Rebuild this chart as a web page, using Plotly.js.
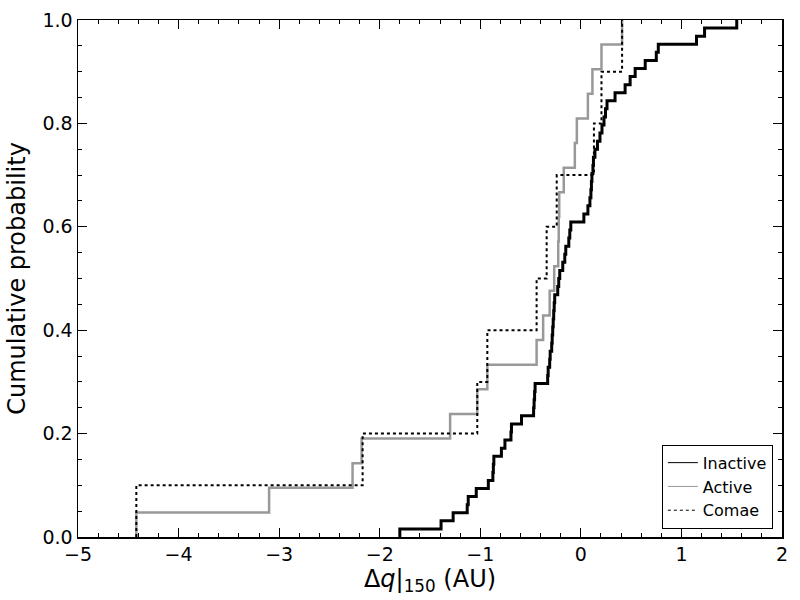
<!DOCTYPE html>
<html>
<head>
<meta charset="utf-8">
<script src="https://cdn.plot.ly/plotly-3.0.1.min.js"></script>
<style>
  body { margin: 0; background: #fff; }
  #plot { width: 800px; height: 600px; }
</style>
</head>
<body>
<div id="plot"></div>
<script>
// Delta q at 150 AU for each group (sorted)
let inactive = [-1.80, -1.39, -1.27, -1.13, -1.12, -1.04, -0.92, -0.875, -0.87, -0.865,
  -0.79, -0.755, -0.695, -0.69, -0.59, -0.47, -0.465, -0.46, -0.455, -0.33,
  -0.325, -0.31, -0.305, -0.29, -0.285, -0.28, -0.275, -0.27, -0.265, -0.26,
  -0.23, -0.22, -0.21, -0.18, -0.16, -0.15, -0.12, -0.11, -0.10, 0.03,
  0.07, 0.09, 0.10, 0.105, 0.11, 0.12, 0.125, 0.14, 0.165, 0.19,
  0.21, 0.23, 0.245, 0.26, 0.34, 0.44, 0.49, 0.54, 0.64, 0.75,
  0.77, 1.15, 1.23, 1.55];

let active = [-4.42, -3.10, -2.27, -2.18, -1.30, -1.03, -0.93, -0.44, -0.375, -0.31,
  -0.265, -0.225, -0.22, -0.215, -0.17, -0.06, -0.04, 0.07, 0.115, 0.205, 0.41];

let comae = [-4.42, -2.17, -1.03, -0.93, -0.44, -0.34, -0.24, 0.13, 0.205, 0.41];

let groupNames = ["Inactive", "Active", "Comae"];

// turn a sorted list into step cdf points
function ecdf(vals) {
  let n = vals.length;
  let xs = [vals[0]];
  let ys = [0];
  for (let i = 0; i < n; i++) {
    xs.push(vals[i]);
    ys.push((i + 1) / n);
  }
  return {x: xs, y: ys};
}

let cInactive = ecdf(inactive);
let cActive = ecdf(active);
let cComae = ecdf(comae);

let trace1 = {
  x: cInactive.x, y: cInactive.y, name: groupNames[0], showlegend: false,
  mode: "lines", line: {shape: "hv", color: "#000000", width: 3}
};
let trace2 = {
  x: cActive.x, y: cActive.y, name: groupNames[1], showlegend: false,
  mode: "lines", line: {shape: "hv", color: "#999999", width: 2.5}
};
let trace3 = {
  x: cComae.x, y: cComae.y, name: groupNames[2], showlegend: false,
  mode: "lines", line: {shape: "hv", color: "#000000", width: 2, dash: "dot"}
};

// legend keys are drawn thin in the original, so use empty traces for them
let key1 = {x: [null], y: [null], name: groupNames[0], mode: "lines", line: {color: "#000000", width: 1}};
let key2 = {x: [null], y: [null], name: groupNames[1], mode: "lines", line: {color: "#999999", width: 1}};
let key3 = {x: [null], y: [null], name: groupNames[2], mode: "lines", line: {color: "#000000", width: 1, dash: "dot"}};

let axisCommon = {
  showgrid: false, zeroline: false,
  showline: true, linecolor: "#000", linewidth: 1.5, mirror: "allticks",
  ticks: "inside", ticklen: 9, tickwidth: 1.2, tickcolor: "#000",
  tickfont: {family: "DejaVu Sans", size: 19, color: "#000"}
};

let layout = {
  width: 800, height: 600,
  margin: {l: 78, r: 18, t: 20, b: 63},
  paper_bgcolor: "#fff", plot_bgcolor: "#fff",
  font: {family: "DejaVu Sans", color: "#000"},
  xaxis: Object.assign({}, axisCommon, {
    range: [-5, 2], dtick: 1, tick0: -5,
    minor: {dtick: 0.2, ticks: "inside", ticklen: 4, tickwidth: 1, tickcolor: "#000"},
    title: {text: "Δ<i>q</i>|<sub>150</sub> (AU)", font: {size: 24}, standoff: 0}
  }),
  yaxis: Object.assign({}, axisCommon, {
    range: [0, 1], dtick: 0.2, tick0: 0, tickformat: ".1f",
    minor: {dtick: 0.05, ticks: "inside", ticklen: 4, tickwidth: 1, tickcolor: "#000"},
    title: {text: "Cumulative probability", font: {size: 24}, standoff: 10}
  }),
  legend: {
    x: 0.987, y: 0.016, xanchor: "right", yanchor: "bottom",
    bordercolor: "#000", borderwidth: 1, bgcolor: "#fff",
    font: {family: "DejaVu Sans", size: 16},
    tracegroupgap: 0
  },
  showlegend: true
};

Plotly.newPlot("plot", [trace1, trace2, trace3, key1, key2, key3], layout, {displayModeBar: false, staticPlot: true});
</script>
</body>
</html>
